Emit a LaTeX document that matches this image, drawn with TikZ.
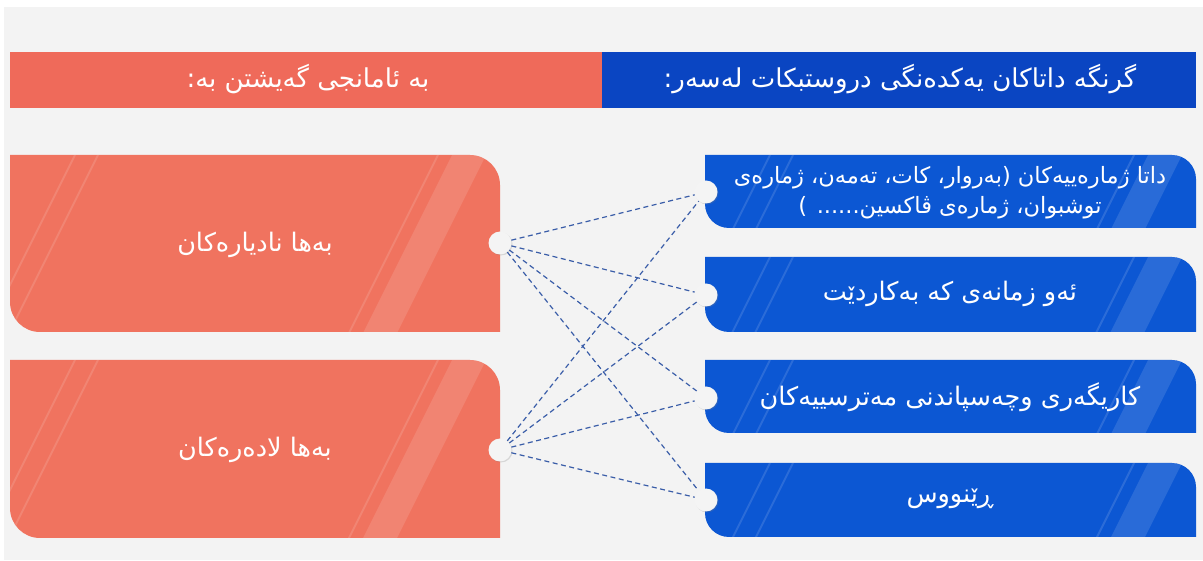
\documentclass[tikz,border=0pt]{standalone}
\usepackage{fontspec}
\newfontfamily\arabicfont[Script=Arabic]{DejaVu Sans}
\TeXXeTstate=1
\usetikzlibrary{shadows}
\definecolor{bgc}{HTML}{F3F3F3}
\definecolor{salhead}{HTML}{EF6A5A}
\definecolor{salbox}{HTML}{F0735F}
\definecolor{bluehead}{HTML}{0A45C2}
\definecolor{bluebox}{HTML}{0C57D3}
\definecolor{dashc}{HTML}{3A5DA8}
\definecolor{dotc}{HTML}{F4F4F4}
\tikzset{
  headtxt/.style={text=white,font=\arabicfont\fontsize{26}{30}\selectfont,inner sep=0pt},
  boxtxt/.style={text=white,font=\arabicfont\fontsize{25.5}{30}\selectfont,inner sep=0pt,align=center},
  smalltxt/.style={boxtxt,font=\arabicfont\fontsize{22.5}{30}\selectfont},
  dotnode/.style={circle,fill=dotc,minimum size=23pt,inner sep=0pt,drop shadow={opacity=0.25,shadow xshift=1pt,shadow yshift=-1pt}},
  linkline/.style={draw=dashc,line width=1.2pt,dash pattern=on 5pt off 3.5pt},
  stripe/.style={white,opacity=0.13,line width=2pt},
}
% x1 y1 x2 y2 radius colour
\newcommand\tagbox[6]{%
  \fill[#6] (#1,#4) -- ({#3-#5},#4) arc[start angle=90,end angle=0,radius=#5] -- (#3,#2) -- ({#1+#5},#2) arc[start angle=270,end angle=180,radius=#5] -- cycle;
  \begin{scope}
    \clip (#1,#4) -- ({#3-#5},#4) arc[start angle=90,end angle=0,radius=#5] -- (#3,#2) -- ({#1+#5},#2) arc[start angle=270,end angle=180,radius=#5] -- cycle;
    \draw[stripe] ({#1+65},#4) -- ++(-100,-200);
    \draw[stripe] ({#1+88},#4) -- ++(-100,-200);
    \draw[stripe] ({#3-62},#4) -- ++(-100,-200);
    \fill[white,opacity=0.12] ({#3-48},#4) -- ({#3-14},#4) -- ++(-100,-200) -- ++(-34,0) -- cycle;
  \end{scope}}
\begin{document}
\begin{tikzpicture}[x=1pt,y=1pt]
\useasboundingbox (0,0) rectangle (1203,560);
\fill[white] (0,0) rectangle (1203,560);
\fill[bgc] (4,0) rectangle (1203,553);
% headers
\fill[salhead] (10,452) rectangle (602,508);
\fill[bluehead] (602,452) rectangle (1196,508);
\node[headtxt] (h1) at (308,481) {\beginR بە ئامانجی گەیشتن بە:\endR};
\node[headtxt] (h2) at (900,481) {\beginR گرنگە داتاکان یەکدەنگی دروستبکات لەسەر:\endR};
% left boxes
\tagbox{10}{228}{500}{405}{30}{salbox}
\tagbox{10}{22}{500}{200}{30}{salbox}
% right boxes
\tagbox{705}{332}{1196}{405}{24}{bluebox}
\tagbox{705}{228}{1196}{303}{24}{bluebox}
\tagbox{705}{127}{1196}{200}{24}{bluebox}
\tagbox{705}{23}{1196}{97}{24}{bluebox}
% texts
\node[boxtxt] (t1) at (255,315) {\beginR بەها نادیارەکان\endR};
\node[boxtxt] (t2) at (255,110) {\beginR بەها لادەرەکان\endR};
\node[smalltxt] (r1) at (950,367) {\beginR داتا ژمارەییەکان (بەروار، کات، تەمەن، ژمارەی\endR\\\beginR توشبوان، ژمارەی ڤاکسین...... )\endR};
\node[boxtxt] (r2) at (950,266) {\beginR ئەو زمانەی کە بەکاردێت\endR};
\node[boxtxt] (r3) at (950,163) {\beginR کاریگەری وچەسپاندنی مەترسییەکان\endR};
\node[boxtxt] (r4) at (950,61) {\beginR ڕێنووس\endR};
% connector dots
\node[dotnode] (L1) at (500,317) {};
\node[dotnode] (L2) at (500,110) {};
\node[dotnode] (R1) at (706,368) {};
\node[dotnode] (R2) at (706,265) {};
\node[dotnode] (R3) at (706,162) {};
\node[dotnode] (R4) at (706,60) {};
% links
\foreach \a in {L1,L2}{
  \foreach \b in {R1,R2,R3,R4}{
    \draw[linkline] (\a) -- (\b);
  }
}
\end{tikzpicture}
\end{document}
